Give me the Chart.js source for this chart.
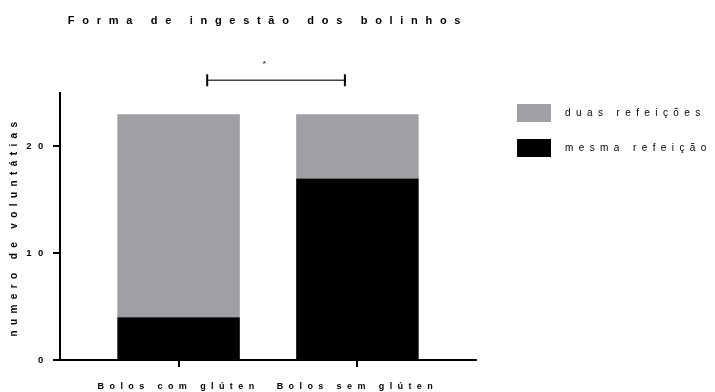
<!DOCTYPE html>
<html>
<head>
<meta charset="utf-8">
<script src="https://cdn.jsdelivr.net/npm/chart.js@4.4.1/dist/chart.umd.min.js"></script>
<style>
  body { margin: 0; background: #fff; }
  canvas { display: block; }
</style>
</head>
<body>
<canvas id="chart" width="715" height="392"></canvas>
<script>
  // values
  const categories = ['Bolos com glúten', 'Bolos sem glúten'];
  const mesmaRefeicao = [4, 17];
  const duasRefeicoes = [19, 6];
  const yTicks = [0, 10, 20];

  // significance bracket between the two groups (x in group units, y in volunteers)
  const sigFromTo = [1.16, 1.93];
  const sigLevel = 26.2;
  const sigLabel = '*';
  const sigLabelAt = [1.48, 27.7];

  // the original figure spaces its letters out, a bit more for the bigger fonts
  const spacing = { '11': 7.7, '10': 5.4, '9.5': 6.6, '9': 5.4 };

  const canvas = document.getElementById('chart');
  const ctx = canvas.getContext('2d');
  const fontProp = Object.getOwnPropertyDescriptor(CanvasRenderingContext2D.prototype, 'font');
  Object.defineProperty(ctx, 'font', {
    get() { return fontProp.get.call(this); },
    set(v) {
      fontProp.set.call(this, v);
      const m = /(\d+(?:\.\d+)?)px/.exec(v);
      this.letterSpacing = ((m && spacing[m[1]]) || 0) + 'px';
    }
  });

  Chart.defaults.font.family = "'Liberation Sans', Arial, sans-serif";
  Chart.defaults.color = '#000';

  // legend on the right, top aligned, drawn by hand (big boxes, wide gap)
  const sideLegend = {
    id: 'sideLegend',
    afterDraw(chart, args, opts) {
      const c = chart.ctx;
      const sets = chart.data.datasets.slice().reverse();
      c.save();
      sets.forEach((ds, i) => {
        const y = opts.top + i * opts.step;
        c.fillStyle = ds.backgroundColor;
        c.fillRect(opts.left, y, opts.boxWidth, opts.boxHeight);
        c.font = opts.font;
        c.fillStyle = '#000';
        c.textAlign = 'left';
        c.textBaseline = 'middle';
        c.fillText(ds.label, opts.left + opts.boxWidth + opts.gap, y + opts.boxHeight / 2);
      });
      c.restore();
    }
  };

  const sigBracket = {
    id: 'sigBracket',
    afterDatasetsDraw(chart) {
      const {x, y} = chart.scales;
      const c = chart.ctx;
      const x1 = x.getPixelForValue(sigFromTo[0]);
      const x2 = x.getPixelForValue(sigFromTo[1]);
      const yy = y.getPixelForValue(sigLevel);
      c.save();
      c.strokeStyle = '#444';
      c.lineWidth = 1.5;
      c.beginPath();
      c.moveTo(x1, yy);
      c.lineTo(x2, yy);
      c.stroke();
      c.strokeStyle = '#000';
      c.lineWidth = 2;
      c.beginPath();
      c.moveTo(x1, yy - 6); c.lineTo(x1, yy + 6);
      c.moveTo(x2, yy - 6); c.lineTo(x2, yy + 6);
      c.stroke();
      c.font = "bold 8px 'Liberation Sans', Arial, sans-serif";
      c.fillStyle = '#333';
      c.textAlign = 'center';
      c.textBaseline = 'middle';
      c.fillText(sigLabel, x.getPixelForValue(sigLabelAt[0]), y.getPixelForValue(sigLabelAt[1]));
      c.restore();
    }
  };

  const chart = new Chart(ctx, {
    type: 'bar',
    data: {
      datasets: [
        {
          label: 'mesma refeição',
          data: mesmaRefeicao.map((v, i) => ({ x: i + 1, y: v })),
          backgroundColor: '#000000'
        },
        {
          label: 'duas refeições',
          data: duasRefeicoes.map((v, i) => ({ x: i + 1, y: v })),
          backgroundColor: '#a09fa4'
        }
      ]
    },
    options: {
      responsive: false,
      animation: false,
      layout: { padding: { left: 0, right: 239, top: 0, bottom: 0 } },
      datasets: { bar: { barPercentage: 0.685, categoryPercentage: 1 } },
      scales: {
        x: {
          type: 'linear',
          stacked: true,
          offset: false,
          min: 0.337,
          max: 2.663,
          afterBuildTicks: s => { s.ticks = categories.map((c, i) => ({ value: i + 1 })); },
          afterFit: s => { s.height = 32; },
          ticks: {
            callback: v => categories[v - 1],
            font: { size: 9, weight: 'bold' },
            padding: 14,
            autoSkip: false,
            maxRotation: 0
          },
          grid: { offset: false, drawOnChartArea: false, tickLength: 7, color: '#000', lineWidth: 2 },
          border: { color: '#000', width: 2 }
        },
        y: {
          stacked: true,
          min: 0,
          max: 25,
          afterBuildTicks: s => { s.ticks = yTicks.map(v => ({ value: v })); },
          afterFit: s => { s.width = 60; },
          ticks: { font: { size: 9.5, weight: 'bold' }, padding: 3 },
          grid: { drawOnChartArea: false, tickLength: 7, color: '#000', lineWidth: 2 },
          border: { color: '#000', width: 2 },
          title: {
            display: true,
            text: 'numero de voluntátias',
            font: { size: 10, weight: 'bold' },
            padding: { top: 8, bottom: 0 }
          }
        }
      },
      plugins: {
        legend: { display: false },
        tooltip: { enabled: false },
        title: {
          display: true,
          text: 'Forma de ingestão dos bolinhos',
          fullSize: false,
          font: { size: 11, weight: 'bold' },
          padding: { top: 14.4, bottom: 65.4 }
        },
        sideLegend: {
          left: 517, top: 104, step: 35, boxWidth: 34, boxHeight: 18, gap: 14,
          font: "10px 'Liberation Sans', Arial, sans-serif"
        }
      }
    },
    plugins: [sideLegend, sigBracket]
  });
</script>
</body>
</html>
